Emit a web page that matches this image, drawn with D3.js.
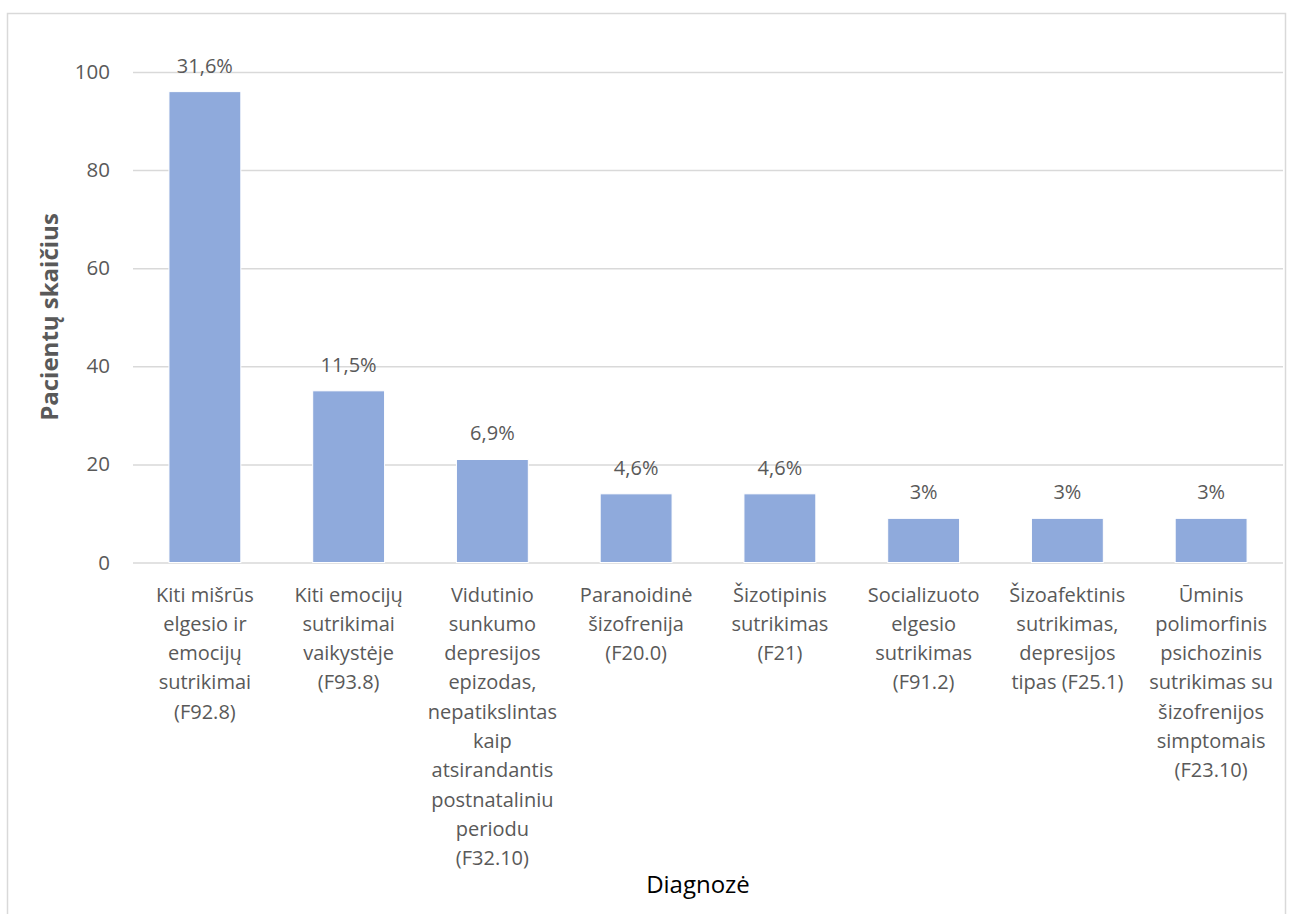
<!DOCTYPE html>
<html>
<head>
<meta charset="utf-8">
<script src="https://cdn.jsdelivr.net/npm/d3@7"></script>
<style>
    body { margin: 0; background: #fff; }
    text { font-family: "Open Sans", "Noto Sans", sans-serif; fill: #595959; }
</style>
</head>
<body>
<svg id="chart"></svg>
<script>
// category labels, already split into the lines used in the picture
const categories = [
    ["Kiti mišrūs", "elgesio ir", "emocijų", "sutrikimai", "(F92.8)"],
    ["Kiti emocijų", "sutrikimai", "vaikystėje", "(F93.8)"],
    ["Vidutinio", "sunkumo", "depresijos", "epizodas,", "nepatikslintas", "kaip", "atsirandantis", "postnataliniu", "periodu", "(F32.10)"],
    ["Paranoidinė", "šizofrenija", "(F20.0)"],
    ["Šizotipinis", "sutrikimas", "(F21)"],
    ["Socializuoto", "elgesio", "sutrikimas", "(F91.2)"],
    ["Šizoafektinis", "sutrikimas,", "depresijos", "tipas (F25.1)"],
    ["Ūminis", "polimorfinis", "psichozinis", "sutrikimas su", "šizofrenijos", "simptomais", "(F23.10)"]
];
const patients = [96, 35, 21, 14, 14, 9, 9, 9];
const percentLabels = ["31,6%", "11,5%", "6,9%", "4,6%", "4,6%", "3%", "3%", "3%"];
const yTicks = [0, 20, 40, 60, 80, 100];

const width = 1293, height = 914;
const margin = {top: 72, right: 10, bottom: 351, left: 133};
const innerW = 1283 - margin.left;
const innerH = 562.5 - margin.top;

const svg = d3.select("#chart")
    .attr("width", width)
    .attr("height", height);

// outer chart border (bottom edge is cut off in the original)
svg.append("path")
    .attr("d", `M7.5,${height + 2}V13.5H1285.5V${height + 2}`)
    .attr("fill", "none")
    .attr("stroke", "#d9d9d9")
    .attr("stroke-width", 1.5);

const g = svg.append("g")
    .attr("transform", `translate(${margin.left},${margin.top})`);

const x = d3.scaleBand()
    .domain(d3.range(categories.length))
    .range([0, innerW])
    .paddingInner(0.5)
    .paddingOuter(0.25);

const y = d3.scaleLinear()
    .domain([0, 100])
    .range([innerH, 0]);

// gridlines + y labels via axis
const yAxis = d3.axisLeft(y)
    .tickValues(yTicks)
    .tickSize(-innerW)
    .tickPadding(23);

const yAxisG = g.append("g").call(yAxis);
yAxisG.select(".domain").remove();
yAxisG.selectAll("line")
    .attr("stroke", "#d9d9d9")
    .attr("stroke-width", 1.5);
yAxisG.selectAll("text")
    .attr("fill", "#595959")
    .style("font-size", "20.5px");

// bars
g.selectAll("rect.bar")
    .data(patients)
    .join("rect")
    .attr("class", "bar")
    .attr("x", (d, i) => x(i))
    .attr("y", d => y(d))
    .attr("width", x.bandwidth())
    .attr("height", d => innerH - y(d))
    .attr("fill", "#8faadc")
    .attr("stroke", "#fff")
    .attr("stroke-width", 1);

// percent labels
g.selectAll("text.pct")
    .data(patients)
    .join("text")
    .attr("class", "pct")
    .attr("x", (d, i) => x(i) + x.bandwidth() / 2)
    .attr("y", d => y(d) - 19)
    .attr("text-anchor", "middle")
    .style("font-size", "20px")
    .text((d, i) => percentLabels[i]);

// category labels (multi line)
const catG = g.selectAll("g.cat")
    .data(categories)
    .join("g")
    .attr("class", "cat")
    .attr("transform", (d, i) => `translate(${x(i) + x.bandwidth() / 2},${innerH + 39})`);

catG.selectAll("text")
    .data(d => d)
    .join("text")
    .attr("y", (d, i) => i * 29.3)
    .attr("text-anchor", "middle")
    .style("font-size", "20px")
    .text(d => d);

// axis titles
svg.append("text")
    .attr("transform", "translate(58,317) rotate(-90)")
    .attr("text-anchor", "middle")
    .style("font-size", "24px")
    .style("font-weight", "bold")
    .text("Pacientų skaičius");

svg.append("text")
    .attr("x", 698)
    .attr("y", 893)
    .attr("text-anchor", "middle")
    .style("font-size", "24px")
    .style("fill", "#000")
    .text("Diagnozė");
</script>
</body>
</html>
